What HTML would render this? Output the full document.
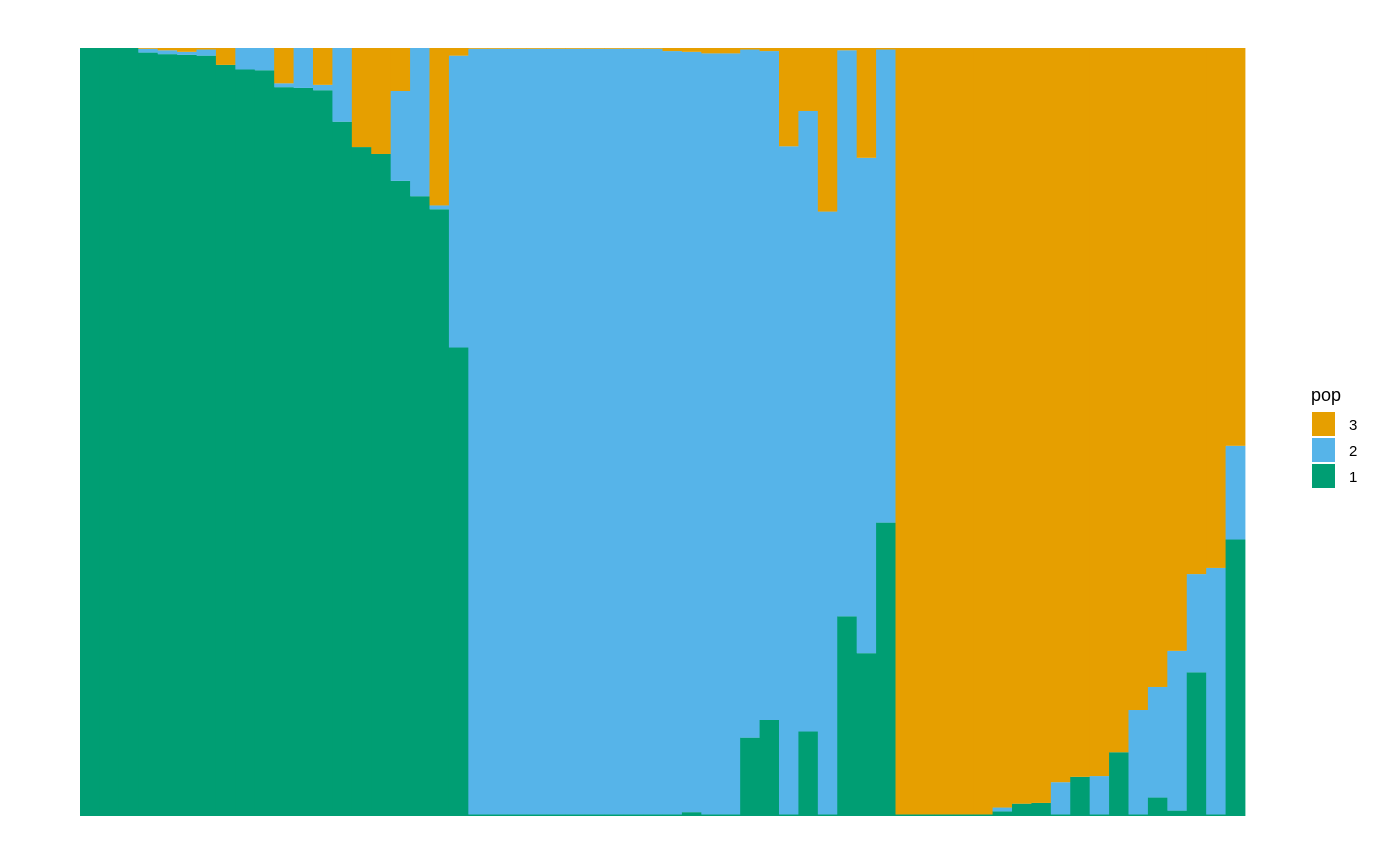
<!DOCTYPE html>
<html><head><meta charset="utf-8"><style>
html,body{margin:0;padding:0;background:#fff;}
svg{display:block;font-family:"Liberation Sans",Arial,sans-serif;}
</style></head><body>
<svg id="chart" width="1400" height="866" viewBox="0 0 1400 866">
<g id="bars"></g>
<g>
<text x="1311" y="401" font-size="18" fill="#000">pop</text>
<rect x="1312" y="412" width="23" height="24" fill="#E69F00"/>
<text x="1349" y="430" font-size="15">3</text>
<rect x="1312" y="438" width="23" height="24" fill="#56B4E9"/>
<text x="1349" y="456" font-size="15">2</text>
<rect x="1312" y="464" width="23" height="24" fill="#009E73"/>
<text x="1349" y="482" font-size="15">1</text>
</g>
</svg>
<script>
const p1 = [1,1,1,0.994,0.992,0.991,0.990,0.978,0.972,0.971,0.949,0.948,0.945,0.904,0.871,0.862,0.827,0.807,0.790,0.610,
0.002,0.002,0.002,0.002,0.002,0.002,0.002,0.002,0.002,0.002,0.002,0.005,0.002,0.002,0.102,0.125,0.002,0.110,0.002,0.260,0.212,0.382,
0.002,0.002,0.002,0.002,0.002,0.006,0.016,0.017,0.002,0.051,0.002,0.083,0.002,0.024,0.007,0.187,0.002,0.360];
const p2 = [0,0,0,0.005,0.005,0.004,0.008,0,0.028,0.029,0.005,0.052,0.007,0.096,0,0,0.117,0.193,0.005,0.380,
0.997,0.997,0.997,0.997,0.997,0.997,0.997,0.997,0.997,0.997,0.994,0.990,0.991,0.991,0.896,0.871,0.870,0.808,0.785,0.737,0.645,0.616,
0,0,0,0,0,0.005,0,0,0.042,0,0.050,0,0.136,0.144,0.208,0.128,0.321,0.122];
const p3 = [0,0,0,0.001,0.003,0.005,0.002,0.022,0,0,0.046,0,0.048,0,0.129,0.138,0.056,0,0.205,0.010,
0.001,0.001,0.001,0.001,0.001,0.001,0.001,0.001,0.001,0.001,0.004,0.005,0.007,0.007,0.002,0.004,0.128,0.082,0.213,0.003,0.143,0.002,
0.998,0.998,0.998,0.998,0.998,0.989,0.984,0.983,0.956,0.949,0.948,0.917,0.862,0.832,0.785,0.685,0.677,0.518];

const X0=80, X1=1245, Y0=48, Y1=816;
const n=p1.length, bw=(X1-X0)/n;
const xs=i=>X0+i*bw;
const ys=v=>Y1-v*(Y1-Y0);
const g=document.getElementById('bars');
const NS='http://www.w3.org/2000/svg';
const cols=['#009E73','#56B4E9','#E69F00'];
const names=['pop1','pop2','pop3'];
for(let i=0;i<n;i++){
  const vals=[p1[i],p2[i],p3[i]];
  const tot=vals[0]+vals[1]+vals[2];
  let cum=0;
  for(let k=0;k<3;k++){
    const v=vals[k]/tot;
    const r=document.createElementNS(NS,'rect');
    r.setAttribute('x',xs(i));
    r.setAttribute('width',bw+0.4);
    r.setAttribute('y',ys(cum+v));
    r.setAttribute('height',Math.max(0,ys(cum)-ys(cum+v)));
    r.setAttribute('fill',cols[k]);
    
    
    g.appendChild(r);
    cum+=v;
  }
}
</script>
</body></html>
